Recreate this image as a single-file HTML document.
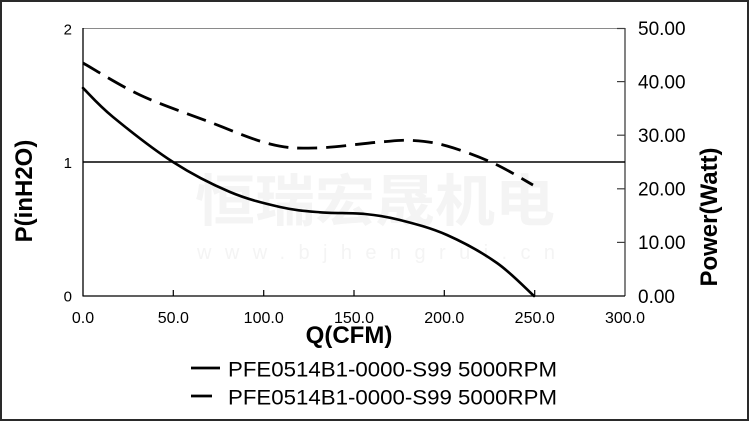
<!DOCTYPE html>
<html>
<head>
<meta charset="utf-8">
<style>
html,body{margin:0;padding:0;background:#fff;}
svg{display:block;}
text{font-family:"Liberation Sans",Arial,sans-serif;fill:#000;}
</style>
</head>
<body>
<svg width="750" height="422" viewBox="0 0 750 422" xmlns="http://www.w3.org/2000/svg">
<rect x="0" y="0" width="750" height="422" fill="#fff"/>
<rect x="1" y="1" width="747" height="419" fill="none" stroke="#2a2a2a" stroke-width="2"/>

<!-- watermark -->
<text x="195" y="221" font-size="56" font-weight="bold" style="font-family:'Noto Sans CJK SC','WenQuanYi Zen Hei',sans-serif;fill:#f4f4f4" textLength="360" lengthAdjust="spacingAndGlyphs">恒瑞宏晟机电</text>
<text x="197" y="259" font-size="20" style="fill:#f4f4f4" textLength="358" lengthAdjust="spacing">www.bjhengrui.cn</text>

<!-- plot frame -->
<line x1="83" y1="28.5" x2="625" y2="28.5" stroke="#8a8a8a" stroke-width="1"/>
<line x1="625" y1="28" x2="625" y2="296" stroke="#404040" stroke-width="1.3"/>
<line x1="83" y1="28" x2="83" y2="296.5" stroke="#000" stroke-width="1.3"/>
<line x1="83" y1="296" x2="625" y2="296" stroke="#000" stroke-width="1.3"/>
<line x1="83" y1="162" x2="625" y2="162" stroke="#000" stroke-width="1.4"/>

<!-- right ticks -->
<g stroke="#404040" stroke-width="1.2">
<line x1="617" y1="28.5" x2="625" y2="28.5"/>
<line x1="617" y1="81.6" x2="625" y2="81.6"/>
<line x1="617" y1="135.2" x2="625" y2="135.2"/>
<line x1="617" y1="188.8" x2="625" y2="188.8"/>
<line x1="617" y1="242.4" x2="625" y2="242.4"/>
</g>
<!-- x ticks -->
<g stroke="#000" stroke-width="1.2">
<line x1="173.3" y1="290" x2="173.3" y2="296"/>
<line x1="263.7" y1="290" x2="263.7" y2="296"/>
<line x1="354" y1="290" x2="354" y2="296"/>
<line x1="444.3" y1="290" x2="444.3" y2="296"/>
<line x1="534.7" y1="290" x2="534.7" y2="296"/>
</g>

<!-- left tick labels -->
<g font-size="15" text-anchor="end">
<text x="72" y="34.5">2</text>
<text x="72" y="168">1</text>
<text x="72" y="301.5">0</text>
</g>
<!-- right tick labels -->
<g font-size="19">
<text x="638" y="35">50.00</text>
<text x="638" y="88.5">40.00</text>
<text x="638" y="142">30.00</text>
<text x="638" y="195.5">20.00</text>
<text x="638" y="249">10.00</text>
<text x="638" y="303">0.00</text>
</g>
<!-- x tick labels -->
<g font-size="16" text-anchor="middle">
<text x="83" y="323">0.0</text>
<text x="173.3" y="323">50.0</text>
<text x="263.7" y="323">100.0</text>
<text x="354" y="323">150.0</text>
<text x="444.3" y="323">200.0</text>
<text x="534.7" y="323">250.0</text>
<text x="625" y="323">300.0</text>
</g>

<!-- axis titles -->
<text x="349" y="343" font-size="24" font-weight="bold" text-anchor="middle">Q(CFM)</text>
<text transform="translate(32,191) rotate(-90)" font-size="24" font-weight="bold" text-anchor="middle">P(inH2O)</text>
<text transform="translate(717,217) rotate(-90)" font-size="24" font-weight="bold" text-anchor="middle">Power(Watt)</text>

<!-- pressure curve -->
<path fill="none" stroke="#000" stroke-width="2.6" stroke-linecap="round"
d="M83,88 C88,92.8 98,104.7 113,117 C128,129.3 153.5,149.5 173,162 C192.5,174.5 212.2,184.5 230,192 C247.8,199.5 265,203.6 280,207 C295,210.4 305.8,211.1 320,212.3 C334.2,213.5 351.7,212.7 365,214 C378.3,215.3 386.3,216.5 400,220 C413.7,223.5 430.8,227.8 447,235 C463.2,242.2 482.5,252.8 497,263 C511.5,273.2 527.8,290.5 534,296"/>

<!-- power curve -->
<path fill="none" stroke="#000" stroke-width="2.8" stroke-dasharray="20 9"
d="M83,63 C92.5,68.3 119.3,85.3 140,95 C160.7,104.7 185.3,112.8 207,121 C228.7,129.2 252,139.5 270,144 C288,148.5 296.7,148.3 315,148 C333.3,147.7 363.7,143.25 380,142 C396.3,140.75 401.8,139.8 413,140.5 C424.2,141.2 433.7,142.25 447,146 C460.3,149.75 478.7,156.5 493,163 C507.3,169.5 526.3,181.3 533,185"/>

<!-- legend -->
<line x1="191" y1="368" x2="220" y2="368" stroke="#000" stroke-width="2.7"/>
<line x1="191" y1="396" x2="212" y2="396" stroke="#000" stroke-width="2.7"/>
<text x="228" y="376.5" font-size="21" textLength="329" lengthAdjust="spacingAndGlyphs">PFE0514B1-0000-S99 5000RPM</text>
<text x="228" y="404.5" font-size="21" textLength="329" lengthAdjust="spacingAndGlyphs">PFE0514B1-0000-S99 5000RPM</text>
</svg>
</body>
</html>
